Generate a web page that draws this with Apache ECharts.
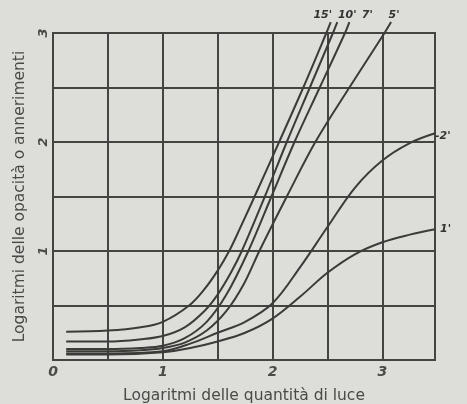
<!DOCTYPE html>
<html>
<head>
<meta charset="utf-8">
<script src="https://cdn.jsdelivr.net/npm/echarts@6/dist/echarts.min.js"></script>
<style>
  html, body { margin: 0; padding: 0; background: #dddeda; }
  #chart { width: 467px; height: 404px; }
</style>
</head>
<body>
<div id="chart"></div>
<script>
// Characteristic curves: density vs log exposure for several development times.
const curveNames = ["15'", "10'", "7'", "5'", "2'", "1'"];

const logE15 = [0.12, 0.5, 0.8, 1.0, 1.24, 1.38, 1.5, 1.6, 1.7, 1.85, 2.06, 2.28, 2.49, 2.53];
const dens15 = [0.26, 0.27, 0.30, 0.35, 0.5, 0.65, 0.82, 0.99, 1.2, 1.53, 2.0, 2.5, 3.0, 3.1];

const logE10 = [0.12, 0.5, 0.8, 1.0, 1.2, 1.38, 1.5, 1.62, 1.72, 1.93, 2.13, 2.34, 2.55, 2.59];
const dens10 = [0.17, 0.17, 0.19, 0.22, 0.3, 0.45, 0.6, 0.8, 1.0, 1.5, 2.0, 2.5, 3.0, 3.1];

const logE7 = [0.12, 0.5, 0.8, 1.0, 1.2, 1.4, 1.58, 1.78, 1.99, 2.2, 2.43, 2.66, 2.7];
const dens7 = [0.10, 0.10, 0.11, 0.13, 0.2, 0.35, 0.6, 1.0, 1.5, 2.0, 2.5, 3.0, 3.1];

const logE5 = [0.12, 0.5, 0.8, 1.0, 1.2, 1.4, 1.58, 1.74, 1.88, 2.13, 2.39, 2.7, 3.02, 3.08];
const dens5 = [0.08, 0.08, 0.09, 0.11, 0.16, 0.27, 0.45, 0.7, 1.0, 1.5, 2.0, 2.5, 3.0, 3.1];

const logE2 = [0.12, 0.5, 1.0, 1.25, 1.5, 1.75, 2.0, 2.25, 2.5, 2.75, 3.0, 3.25, 3.48];
const dens2 = [0.06, 0.06, 0.08, 0.15, 0.25, 0.35, 0.52, 0.85, 1.22, 1.58, 1.83, 1.99, 2.08];

const logE1 = [0.12, 0.5, 1.0, 1.25, 1.5, 1.75, 2.0, 2.25, 2.5, 2.75, 3.0, 3.25, 3.48];
const dens1 = [0.05, 0.05, 0.07, 0.11, 0.17, 0.25, 0.38, 0.58, 0.8, 0.97, 1.08, 1.15, 1.2];

const xTickLabels = ['0', '1', '2', '3'];
const yTickLabels = ['1', '2', '3'];

const ink = '#444442';
const curveColor = '#3b3b39';

const zip = (xs, ys) => xs.map((x, i) => [x, ys[i]]);

const curves = [
  { x: logE15, y: dens15, label: { align: 'center', verticalAlign: 'bottom', offset: [-8, -1] } },
  { x: logE10, y: dens10, label: { align: 'center', verticalAlign: 'bottom', offset: [10, -1] } },
  { x: logE7,  y: dens7,  label: { align: 'center', verticalAlign: 'bottom', offset: [18, -1] } },
  { x: logE5,  y: dens5,  label: { align: 'center', verticalAlign: 'bottom', offset: [3, -1] } },
  { x: logE2,  y: dens2,  label: { align: 'left', verticalAlign: 'middle', offset: [0, 3], text: "-2'" } },
  { x: logE1,  y: dens1,  label: { align: 'left', verticalAlign: 'middle', offset: [5, 0] } }
];

const labelFont = {
  fontFamily: 'DejaVu Sans',
  fontStyle: 'italic',
  fontWeight: 'bold',
  fontSize: 11,
  color: '#333331'
};

const series = curves.map((c, i) => ({
  name: curveNames[i],
  type: 'line',
  data: zip(c.x, c.y),
  smooth: 0.35,
  showSymbol: false,
  symbol: 'none',
  clip: false,
  lineStyle: { color: curveColor, width: 2 },
  endLabel: Object.assign({
    show: true,
    distance: 0,
    formatter: c.label.text ? c.label.text : curveNames[i]
  }, labelFont, {
    align: c.label.align,
    verticalAlign: c.label.verticalAlign,
    offset: c.label.offset
  }),
  animation: false
}));

const chart = echarts.init(document.getElementById('chart'), null, { renderer: 'canvas' });
chart.setOption({
  backgroundColor: '#dddeda',
  animation: false,
  grid: {
    left: 53, right: 32, top: 33, bottom: 44,
    outerBoundsMode: 'none',
    containLabel: false,
    show: true,
    borderColor: ink,
    borderWidth: 2,
    backgroundColor: 'transparent'
  },
  xAxis: {
    type: 'value',
    min: 0, max: 3.48, interval: 0.5,
    name: 'Logaritmi delle quantità di luce',
    nameLocation: 'middle',
    nameGap: 28,
    nameTextStyle: { fontFamily: 'DejaVu Sans', fontSize: 15.5, color: '#4a4a48' },
    axisLine: { show: false },
    axisTick: { show: false },
    axisLabel: {
      margin: 5,
      showMaxLabel: false,
      fontFamily: 'DejaVu Sans', fontStyle: 'italic', fontWeight: 'bold', fontSize: 14, color: '#4a4a48',
      formatter: v => (Number.isInteger(v) ? xTickLabels[v] : '')
    },
    splitLine: { show: true, lineStyle: { color: ink, width: 2 } }
  },
  yAxis: {
    type: 'value',
    min: 0, max: 3, interval: 0.5,
    name: 'Logaritmi delle opacità o annerimenti',
    nameLocation: 'middle',
    nameGap: 25,
    nameTextStyle: { fontFamily: 'DejaVu Sans', fontSize: 15.5, color: '#4a4a48' },
    axisLine: { show: false },
    axisTick: { show: false },
    axisLabel: {
      rotate: 90,
      margin: 3,
      showMinLabel: false,
      fontFamily: 'DejaVu Sans', fontStyle: 'italic', fontWeight: 'bold', fontSize: 13, color: '#4a4a48',
      formatter: v => (Number.isInteger(v) && v > 0 ? yTickLabels[v - 1] : '')
    },
    splitLine: { show: true, lineStyle: { color: ink, width: 2 } }
  },
  series: series
});
</script>
</body>
</html>
